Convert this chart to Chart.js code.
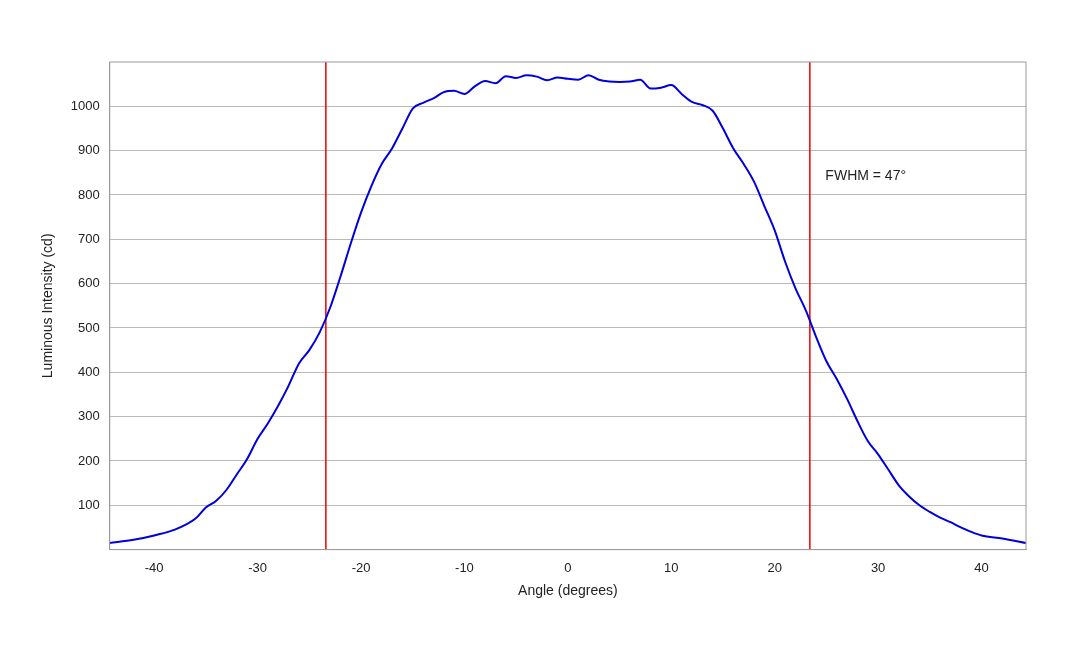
<!DOCTYPE html>
<html><head><meta charset="utf-8">
<script src="https://cdn.jsdelivr.net/npm/chart.js@4"></script>
<style>html,body{margin:0;background:#fff}#wrap{width:1080px;height:648px}</style>
</head><body><div id="wrap"><canvas id="c"></canvas></div>
<script>
const angles = [-44.3,-42,-40,-38,-36,-35,-34,-33,-32,-31,-30,-29,-28,-27,-26,-25,-24,-23,-22,-21,-20,-19,-18,-17,-16,-15,-14,-13,-12,-11,-10,-9,-8,-7,-6,-5,-4,-3,-2,-1,0,1,2,3,4,5,6,7,8,9,10,11,12,13,14,15,16,17,18,19,20,21,22,23,24,25,26,27,28,29,30,31,32,33,34,35,36,37,38,39,40,42,44.3];
const intensity = [15,22,32,45,70,95,110,135,170,205,250,285,325,370,420,450,490,545,615,690,760,820,870,905,950,995,1008,1018,1032,1035,1028,1045,1057,1052,1068,1064,1070,1067,1059,1065,1062,1060,1070,1060,1056,1055,1056,1060,1040,1042,1048,1028,1010,1003,990,950,905,870,830,775,720,650,590,540,480,425,385,340,290,245,215,180,145,120,100,85,72,62,50,40,32,25,15];
const fwhm = [-23.4, 23.4];
const yTicks = [100,200,300,400,500,600,700,800,900,1000];

const font = {family: "'Liberation Sans', Arial, sans-serif", size: 13};
Chart.defaults.font = font;
Chart.defaults.color = '#222';

const fwhmLabel = {
  id: 'fwhmLabel',
  afterDatasetsDraw(chart) {
    const {ctx, scales: {x, y}} = chart;
    ctx.save();
    ctx.font = "14px 'Liberation Sans', Arial, sans-serif";
    ctx.fillStyle = '#222';
    ctx.textBaseline = 'middle';
    ctx.fillText('FWHM = 47°', x.getPixelForValue(24.9), y.getPixelForValue(842));
    ctx.restore();
  }
};

new Chart(document.getElementById('c'), {
  type: 'scatter',
  data: {
    datasets: [
      {data: angles.map((a, i) => ({x: a, y: intensity[i]})), showLine: true, borderColor: '#0000dd', borderWidth: 2, pointRadius: 0, cubicInterpolationMode: 'monotone'},
      {data: [{x: fwhm[0], y: 0}, {x: fwhm[0], y: 1100}], showLine: true, borderColor: '#ee0000', borderWidth: 1.5, pointRadius: 0},
      {data: [{x: fwhm[1], y: 0}, {x: fwhm[1], y: 1100}], showLine: true, borderColor: '#ee0000', borderWidth: 1.5, pointRadius: 0}
    ]
  },
  options: {
    responsive: true, maintainAspectRatio: false, animation: false,
    layout: {padding: {left: 36, right: 54, top: 62, bottom: 44}},
    plugins: {legend: {display: false}, tooltip: {enabled: false}},
    scales: {
      x: {
        min: -44.3, max: 44.3,
        afterBuildTicks: s => { s.ticks = [-40,-30,-20,-10,0,10,20,30,40].map(v => ({value: v})); },
        grid: {display: false, drawTicks: true},
        border: {color: '#999'},
        ticks: {font: {size: 13}},
        title: {display: true, text: 'Angle (degrees)', font: {size: 14}}
      },
      y: {
        min: 0, max: 1100,
        afterBuildTicks: s => { s.ticks = yTicks.map(v => ({value: v})); },
        grid: {color: '#bbb', drawTicks: false},
        border: {color: '#999'},
        ticks: {padding: 10, font: {size: 13}, callback: v => String(v)},
        title: {display: true, text: 'Luminous Intensity (cd)', font: {size: 14}}
      }
    }
  },
  plugins: [fwhmLabel, {
    id: 'frame',
    afterDraw(chart) {
      const a = chart.chartArea, c = chart.ctx;
      c.save(); c.strokeStyle = '#999'; c.lineWidth = 1;
      c.strokeRect(a.left, a.top, a.right - a.left, a.bottom - a.top);
      c.restore();
    }
  }]
});
</script></body></html>
